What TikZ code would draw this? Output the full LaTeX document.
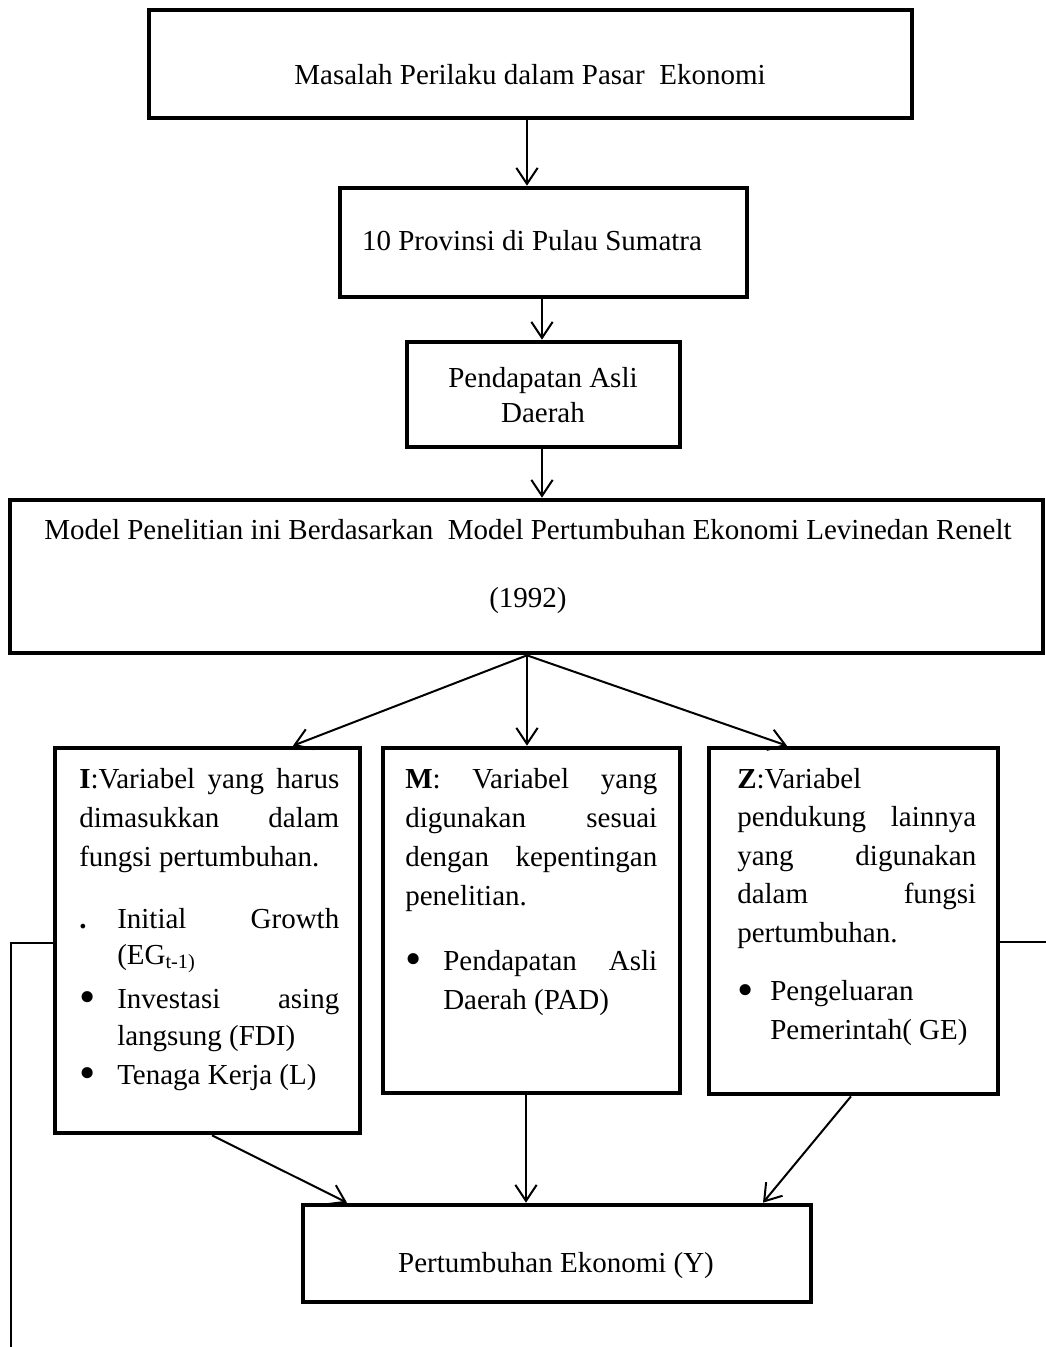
\documentclass[tikz,border=0pt]{standalone}
\usepackage{fontspec}
\usepackage{graphicx}
\setmainfont{Liberation Serif}
\usetikzlibrary{arrows.meta,fit}
\newdimen\px \px=0.75pt
\newcommand\mainfs{\fontsize{21.75pt}{29.25pt}\selectfont}
\newcommand\sline[1]{\makebox[\linewidth][s]{#1}\par}
\newcommand\pline[1]{#1\par}
\newcommand\bul{\raisebox{-4.5\px}{\scalebox{1.6}{•}}}
\begin{document}
\begin{tikzpicture}[x=0.75pt,y=-0.75pt,
  box/.style={draw, line width=3.5pt, inner sep=0pt},
  txt/.style={inner sep=0pt, font=\mainfs},
  arr/.style={line width=1.5pt, -{Straight Barb[length=12pt,width=16pt]}},
  ln/.style={line width=1.5pt}]
\useasboundingbox (0,0) rectangle (1046,1347);

% boxes
\node[box, fit={(149,10) (912,118)}] (b1) {};
\node[box, fit={(340,188) (747,297)}] (b2) {};
\node[box, fit={(407,342) (680,447)}] (b3) {};
\node[box, fit={(10,500) (1043,653)}] (b4) {};
\node[box, fit={(55,748) (360,1133)}] (bI) {};
\node[box, fit={(383,748) (680,1093)}] (bM) {};
\node[box, fit={(709,748) (998,1094)}] (bZ) {};
\node[box, fit={(303,1205) (811,1302)}] (bY) {};

% texts
\node[txt, anchor=base] (t1) at (530,84) {Masalah Perilaku dalam Pasar\ \ Ekonomi};
\node[txt, anchor=base] (t2) at (532,250) {10 Provinsi di Pulau Sumatra};
\node[txt, anchor=base] (t3) at (543,387) {\parbox[t]{260\px}{\mainfs\centering\baselineskip=35\px Pendapatan Asli\par Daerah\par}};
\node[txt, anchor=base] (t4) at (528,539) {\parbox[t]{1030\px}{\mainfs\centering\baselineskip=68\px Model Penelitian ini Berdasarkan\ \ Model Pertumbuhan Ekonomi Levinedan Renelt\par (1992)\par}};
\node[txt, anchor=base] (tY) at (556,1272) {Pertumbuhan Ekonomi (Y)};

\node[txt, anchor=base west] (tI) at (79,788) {\parbox[t]{260\px}{\mainfs\baselineskip=39\px
\sline{\textbf{I}:Variabel yang harus}
\sline{dimasukkan dalam}
\pline{fungsi pertumbuhan.}
\vspace{23\px}
\makebox[38\px][l]{\textbf{.}}\makebox[222\px][s]{Initial Growth}\par
\vspace{-3\px}
\hspace*{38\px}(EG\textsubscript{t-1)}\par
\vspace{5\px}
\makebox[38\px][l]{\bul}\makebox[222\px][s]{Investasi asing}\par
\vspace{-2\px}
\hspace*{38\px}langsung (FDI)\par
\makebox[38\px][l]{\bul}Tenaga Kerja (L)\par}};

\node[txt, anchor=base west] (tM) at (405,788) {\parbox[t]{252\px}{\mainfs\baselineskip=39\px
\sline{\textbf{M}: Variabel yang}
\sline{digunakan sesuai}
\sline{dengan kepentingan}
\pline{penelitian.}
\vspace{26\px}
\makebox[38\px][l]{\bul}\makebox[214\px][s]{Pendapatan Asli}\par
\hspace*{38\px}Daerah (PAD)\par}};

\node[txt, anchor=base west] (tZ) at (737,788) {\parbox[t]{239\px}{\mainfs\baselineskip=38.5\px
\pline{\textbf{Z}:Variabel}
\sline{pendukung lainnya}
\sline{yang digunakan}
\sline{dalam fungsi}
\pline{pertumbuhan.}
\vspace{20\px}
\makebox[33\px][l]{\bul}Pengeluaran\par
\hspace*{33\px}Pemerintah( GE)\par}};

% helper coordinates
\coordinate (xa) at (527,0);
\coordinate (xb) at (542,0);
\coordinate (xI) at (293,0);
\coordinate (xZ) at (787,0);
\coordinate (sI) at (212,0);
\coordinate (eI) at (347,0);
\coordinate (xm) at (526,0);
\coordinate (sZ) at (851,0);
\coordinate (eZ) at (763,0);
\coordinate (lc) at (11,943);
\coordinate (le) at (11,1347);
\coordinate (rc) at (1046,942);

% connectors
\draw[arr] (b1.south -| xa) -- (b2.north -| xa);
\draw[arr] (b2.south -| xb) -- (b3.north -| xb);
\draw[arr] (b3.south -| xb) -- (b4.north -| xb);
\draw[arr] (b4.south -| xa) -- (bI.north -| xI);
\draw[arr] (b4.south -| xa) -- (bM.north -| xa);
\draw[arr] (b4.south -| xa) -- (bZ.north -| xZ);
\draw[arr] (bI.south -| sI) -- (bY.north -| eI);
\draw[arr] (bM.south -| xm) -- (bY.north -| xm);
\draw[arr] (bZ.south -| sZ) -- (bY.north -| eZ);
\draw[ln] (bI.west |- lc) -- (lc) -- (le);
\draw[ln] (bZ.east |- rc) -- (rc);
\end{tikzpicture}
\end{document}
